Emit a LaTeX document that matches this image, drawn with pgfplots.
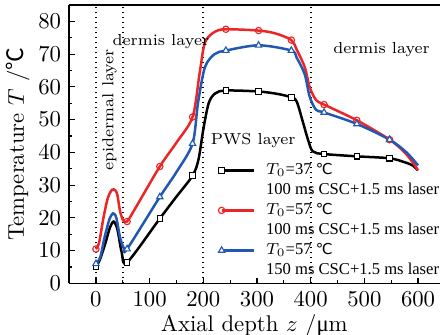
\documentclass[border=0pt]{standalone}
\usepackage{pgfplots}
\pgfplotsset{compat=1.18}
\usepackage{fontspec}
\newfontfamily\cjk{Noto Sans CJK SC}
\newfontfamily\dejavu{DejaVu Sans}
\newfontfamily\libserif{Liberation Serif}
\definecolor{cred}{RGB}{236,38,38}
\definecolor{cblue}{RGB}{34,88,178}
\newcommand{\degc}{{\cjk ℃}}
\newcommand{\degcl}{{\dejavu\fontsize{6.6}{8}\selectfont ℃}}
\begin{document}
\begin{tikzpicture}
\begin{axis}[
  scale only axis,
  width=163pt, height=122.5pt,
  xmin=-50, xmax=640, ymin=0, ymax=85,
  axis x line*=box, axis y line*=left,
  xtick={0,100,...,600}, ytick={0,10,...,80},
  minor x tick num=1, minor y tick num=1,
  tick pos=left,
  major tick length=2.4pt, minor tick length=1.4pt,
  tick style={black, line width=0.5pt},
  axis line style={line width=0.6pt},
  tick label style={font=\normalsize},
  xlabel={Axial depth $z$ /{\libserif μ}m},
  ylabel={Temperature $T$ /\degc},
  label style={font=\normalsize},
  xlabel style={yshift=3pt},
  ylabel style={yshift=-3pt},
  legend cell align=left,
  legend style={at={(axis description cs:0.402,0.434)}, anchor=north west, draw=none, fill=none,
    font=\libserif\fontsize{7.3}{8}\selectfont, inner sep=0pt, row sep=2.3pt, column sep=4.8pt,
    nodes={inner sep=0pt, text height=5pt, text depth=1.5pt}},
  legend image code/.code={\draw[mark repeat=2,mark phase=2,#1] plot coordinates {(0cm,0cm) (0.25cm,0cm) (0.5cm,0cm)};},
  every axis plot/.append style={line width=1.1pt},
]
\addplot[black, dash pattern=on 0.7pt off 1.5pt, line width=0.75pt, forget plot] coordinates {(0,0) (0,85)};
\addplot[black, dash pattern=on 0.7pt off 1.5pt, line width=0.75pt, forget plot] coordinates {(50,0) (50,85)};
\addplot[black, dash pattern=on 0.7pt off 1.5pt, line width=0.75pt, forget plot] coordinates {(200,0) (200,85)};
\addplot[black, dash pattern=on 0.7pt off 1.5pt, line width=0.75pt, forget plot] coordinates {(400,0) (400,85)};

\addplot[black, smooth, tension=0.5, mark=square*, mark size=1.2pt,
  mark options={fill=white, line width=0.5pt, solid},
  mark indices={1,8,9,11,16,17,19,24,25,26}] coordinates {
(0,5.0) (8,7.5) (18,12.5) (26,17) (33,18.9) (40,16.5) (48,9.5) (58,6.4)
(119,19.8) (150,26.5) (180,32.9) (191,37.8) (200,47) (210,55) (222,58)
(242,58.9) (303,58.6) (340,57.8) (364,56.8) (374,55.5) (386,49) (395,43.9)
(404,40.3) (425,39.5) (486,38.8) (547,38.2) (575,37) (590,36) (600,34.5)};
\addlegendentry{$T_0$=37 \degcl}
\addlegendimage{empty legend}
\addlegendentry{100 ms CSC+1.5 ms laser}

\addplot[cred, smooth, tension=0.5, mark=o, mark size=1.4pt,
  mark options={fill=white, line width=0.5pt, solid},
  mark indices={1,10,12,14,18,19,21,26,27,28}] coordinates {
(0,10.5) (6,12.5) (14,20) (22,26) (30,28.6) (36,28.4) (40,27) (45,22) (51,19.2)
(58,18.9) (70,22) (119,35.7) (150,43) (180,50.8) (193,64) (203,73.5) (221,76.8)
(242,77.6) (303,77.2) (335,76.3) (364,74.3) (374,71.4) (389,66) (398,60) (410,56)
(425,54.6) (486,49.8) (547,43.9) (575,40) (592,36.5) (600,34.5)};
\addlegendentry{$T_0$=57 \degcl}
\addlegendimage{empty legend}
\addlegendentry{100 ms CSC+1.5 ms laser}

\addplot[cblue, smooth, tension=0.5, mark=triangle*, mark size=1.6pt,
  mark options={fill=white, line width=0.5pt, solid},
  mark indices={1,9,10,12,16,17,18,23,24,25}] coordinates {
(0,6.0) (8,8) (16,14) (25,19.5) (32,21.4) (38,20) (45,14) (52,10.8) (58,10.5)
(119,26.4) (150,34) (180,42.7) (190,55) (203,66) (221,70) (242,71.1) (303,72.7)
(364,71.1) (374,68.9) (389,63.8) (398,57.1) (410,53) (425,52.2) (486,48.7)
(547,43.9) (575,40.5) (590,38) (600,36)};
\addlegendentry{$T_0$=57 \degcl}
\addlegendimage{empty legend}
\addlegendentry{150 ms CSC+1.5 ms laser}

\node[font=\scriptsize, rotate=90] at (axis cs:25,53) {epidermal layer};
\node[font=\scriptsize] at (axis cs:121,73.9) {dermis layer};
\node[font=\scriptsize] at (axis cs:532,71.4) {dermis layer};
\node[font=\scriptsize] at (axis cs:293,43.6) {PWS layer};
\end{axis}
\pgfresetboundingbox
\path (-30.4pt,-22.4pt) rectangle (163.2pt,124.7pt);
\end{tikzpicture}
\end{document}
